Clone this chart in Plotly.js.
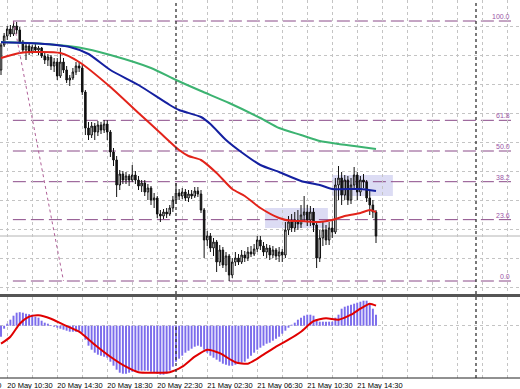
<!DOCTYPE html>
<html><head><meta charset="utf-8">
<script src="https://cdn.plot.ly/plotly-3.0.1.min.js"></script>
<style>html,body{margin:0;padding:0;background:#fff;}#chart{width:520px;height:389px;}</style>
</head><body><div id="chart"></div>
<script>
// M15 bars, bar 0 = 20 May 10:00 ... bar 120 = 21 May 16:00 (prices in points above swing low)
const bars = Array.from({length:121}, (_, k) => k);
const openP = [
 211,236,245,252,247,255,251,239,231,235,
 229,234,231,233,225,221,224,215,219,205,
 219,211,201,203,209,215,213,189,153,146,
 155,149,156,151,157,149,129,121,96,107,
 101,105,101,106,101,95,98,89,93,81,
 83,67,65,69,67,73,81,88,85,89,
 83,87,85,90,87,71,41,45,33,39,
 19,31,16,25,6,19,23,19,26,23,
 29,27,32,41,35,29,33,26,31,25,
 29,26,51,59,53,61,57,66,69,61,
 69,56,23,43,51,41,53,49,96,103,
 86,101,81,96,106,89,101,99,83,76,
 69];
const highP = [
 238,248,255,256,260,259,254,241,238,237,
 236,237,235,234,229,227,226,223,223,233,
 223,215,206,213,219,219,216,191,159,159,
 158,160,159,161,161,151,133,125,111,110,
 109,107,116,110,105,101,101,97,95,88,
 85,71,72,73,76,85,98,92,93,92,
 91,91,94,94,91,73,50,48,43,41,
 36,34,29,27,23,29,27,31,30,34,
 35,37,45,45,39,37,36,35,33,34,
 32,59,65,67,69,71,76,85,76,75,
 73,59,51,59,56,59,61,103,115,109,
 106,105,103,114,109,105,107,101,91,81,
 71];
const lowP = [
 206,234,241,244,245,247,237,228,221,226,
 227,228,226,223,217,215,211,209,201,203,
 208,198,195,201,206,209,186,146,141,143,
 141,145,147,148,141,124,115,84,91,97,
 97,95,99,97,91,89,85,81,76,73,
 63,59,62,63,65,69,77,81,82,80,
 79,82,83,84,68,23,35,29,25,9,
 15,13,9,0,3,15,16,17,19,20,
 24,25,29,31,25,23,21,23,21,19,
 19,23,46,49,49,51,53,59,55,55,
 49,13,19,35,36,36,43,47,81,76,
 81,76,77,91,81,85,93,79,66,63,
 38];
const closeP = [
 236,245,252,247,255,251,239,231,235,229,
 234,231,233,225,221,224,215,219,205,219,
 211,201,203,209,215,213,189,153,146,155,
 149,156,151,157,149,129,121,96,107,101,
 105,101,106,101,95,98,89,93,81,83,
 67,65,69,67,73,81,88,85,89,83,
 87,85,90,87,71,41,45,33,39,19,
 31,16,25,6,19,23,19,26,23,29,
 27,32,41,35,29,33,26,31,25,29,
 26,51,59,53,61,57,66,69,61,69,
 56,23,43,51,41,53,49,96,103,86,
 101,81,96,106,89,101,99,83,76,69,
 45];

// moving averages read at sample bars
const maGreenBar = [0,12,25,35,48,56,64,73,83,89,96,102,108,113,120];
const maGreenVal = [239,237.5,233.5,226,213,201,190,178,163,153,146,140,137,135,132];
const maBlueBar = [0,12,22,28,35,44,54,57,64,67,72,76,83,89,96,102,106,115,120];
const maBlueVal = [238.7,237.5,234,227,211,196,176,171,164,157,141,131,116,109,100,96,92,92,90];
const maRedBar = [0,6,10,19,25,35,44,51,57,60,64,69,74,78,83,89,93,96,102,106,110,115,118,120];
const maRedVal = [223,228,229,228,219,194,168,148,131,125,121,108,92,85,73,63,60,60,59,61,65,68,71,69];

// MACD histogram (per bar) and signal line (sample bars)
const macdHist = [
 -11,-3,2,6,10,13,13.5,13,12,11.5,
 11,9,8,5,3,2,0.5,-1,-2,-3,
 -4,-5,-6,-6,-6,-5,-7,-14,-20,-24,
 -27,-29,-30,-31,-32,-36,-40,-44,-47,-48,
 -48,-47,-46,-46,-45,-45,-45,-45,-46,-47,
 -48,-49,-49,-48,-45,-41,-36,-33,-30,-27,
 -25,-23,-21,-20,-21,-24,-27,-30,-32,-34,
 -36,-38,-39,-40,-40,-39,-38,-37,-36,-33,
 -30,-27,-24,-22,-20,-18,-17,-15,-13,-11,
 -8,-5,-2,1,3,6,8,10,11,11,
 10,6,4,4,4,4,4,8,11,17,
 19,20,21,22,23,24,25,25,22,17,
 11];
const sigBar = [0,3,6,9,12,16,20,25,30,35,40,44,49,54,58,62,66,70,75,79,83,88,92,96,100,104,108,112,115,118,120];
const sigVal = [-18,-11,2,9,10.5,7,1,-6,-19,-31,-41,-46.5,-47,-46.5,-41,-31,-24,-27.5,-36.5,-38,-31,-21,-14,-6,4.5,7.5,6,11,17,22,20];

// Fibonacci retracement
const fibHighBar = 4, fibLowBar = 20;
const fibHigh = 260, fibLow = 0;
const fibLevels = [0, 23.6, 38.2, 50, 61.8, 100];
const fibLabels = ['0.0','23.6','38.2','50.0','61.8','100.0'];
const fibEndBar = 163.2;

// rectangles [bar0, bar1, price0, price1]
const boxes = [[84.5,104.6,53,73],[105.9,125.4,85,106]];
const bidPrice = 45;
const daySepBars = [56, 152];

// time axis
const gridBars = [2,10,18,26,34,42,50,58,66,74,82,90,98,106,114,122,130,138,146,154,162];
const labelBars = [2,18,34,50,66,82,98,114];
const labelText = ['20 May 10:30','20 May 14:30','20 May 18:30','20 May 22:30','21 May 02:30','21 May 06:30','21 May 10:30','21 May 14:30'];
const cutLabelText = '20 May 06:30';

const tickText = gridBars.map(b => { const k = labelBars.indexOf(b); return k >= 0 ? labelText[k] : ''; });

const fibCol = '#8a4a88', fibTxt = '#9a55a6';
const fontFam = 'Liberation Sans, Arial, sans-serif';

const traces = [
  {type:'candlestick', x:bars, open:openP, high:highP, low:lowP, close:closeP, xaxis:'x', yaxis:'y',
   increasing:{line:{color:'#111', width:1}, fillcolor:'#ffffff'},
   decreasing:{line:{color:'#111', width:1}, fillcolor:'#111111'},
   whiskerwidth:0, hoverinfo:'skip'},
  {type:'scatter', mode:'lines', x:maGreenBar, y:maGreenVal, line:{color:'#3cb371', width:2, shape:'spline', smoothing:0.6}, hoverinfo:'skip'},
  {type:'scatter', mode:'lines', x:maBlueBar, y:maBlueVal, line:{color:'#1420a0', width:2, shape:'spline', smoothing:0.6}, hoverinfo:'skip'},
  {type:'scatter', mode:'lines', x:maRedBar, y:maRedVal, line:{color:'#e2231a', width:2, shape:'spline', smoothing:0.6}, hoverinfo:'skip'},
  {type:'bar', x:bars, y:macdHist, xaxis:'x', yaxis:'y2', width:0.62, marker:{color:'#7b6cec', line:{width:0}}, hoverinfo:'skip'},
  {type:'scatter', mode:'lines', x:sigBar, y:sigVal, xaxis:'x', yaxis:'y2', line:{color:'#e00000', width:2, shape:'spline', smoothing:0.6}, hoverinfo:'skip'}
];

const shapes = [];
boxes.forEach(b => shapes.push({type:'rect', xref:'x', yref:'y', x0:b[0], x1:b[1], y0:b[2], y1:b[3], fillcolor:'#dcdcf4', line:{width:0}, layer:'below'}));
fibLevels.forEach(l => {
  const p = fibLow + (fibHigh - fibLow) * l / 100;
  shapes.push({type:'line', xref:'x', yref:'y', x0:fibHighBar - 0.2, x1:fibEndBar, y0:p, y1:p, line:{color:fibCol, width:1, dash:'13px,5px'}, layer:'below'});
});
shapes.push({type:'line', xref:'x', yref:'y', x0:fibHighBar, y0:fibHigh, x1:fibLowBar, y1:fibLow, line:{color:'#b06098', width:1, dash:'dot'}});
shapes.push({type:'line', xref:'paper', yref:'y', x0:0, x1:1, y0:bidPrice, y1:bidPrice, line:{color:'#b4b4b4', width:1}, layer:'below'});
daySepBars.forEach(b => shapes.push({type:'line', xref:'x', yref:'paper', x0:b, x1:b, y0:0, y1:1, line:{color:'#333', width:1.3, dash:'dot'}}));
shapes.push({type:'rect', xref:'paper', yref:'paper', x0:0, x1:1, y0:0.2143, y1:0.2222, fillcolor:'#555', line:{width:0}});
shapes.push({type:'line', xref:'paper', yref:'paper', x0:0, x1:1, y0:0, y1:0, line:{color:'#222', width:1}});

const annotations = fibLevels.map((l, k) => ({
  xref:'x', yref:'y', x:fibEndBar, y:fibLow + (fibHigh - fibLow) * l / 100,
  xanchor:'right', yanchor:'bottom', text:fibLabels[k], showarrow:false,
  font:{family:fontFam, size:7, color:fibTxt}, borderpad:0
}));
annotations.push({xref:'paper', yref:'paper', x:0.0067, y:0, xanchor:'right', yanchor:'top', yshift:-1,
  text:cutLabelText, showarrow:false, font:{family:fontFam, size:7.5, color:'#000'}});

const layout = {
  width:520, height:389, margin:{l:0, r:0, t:0, b:11, pad:0},
  paper_bgcolor:'#ffffff', plot_bgcolor:'#ffffff', showlegend:false,
  font:{family:fontFam, size:7.5, color:'#000'},
  xaxis:{range:[-0.32,166.08], anchor:'y2', rangeslider:{visible:false}, tickmode:'array', tickvals:gridBars, ticktext:tickText,
         tickangle:0, showgrid:true, gridcolor:'#c4c4c4', griddash:'dot', gridwidth:1, zeroline:false, showline:false, ticks:'',
         ticklabelposition:'outside right', ticklabelstandoff:1, fixedrange:true, tickfont:{size:7.5, color:'#000'}},
  yaxis:{domain:[0.2222,1], range:[-13,281], tickmode:'linear', tick0:23, dtick:29, showticklabels:false,
         showgrid:true, gridcolor:'#c4c4c4', griddash:'dot', zeroline:false, ticks:'', fixedrange:true},
  yaxis2:{domain:[0,0.2143], range:[-52.3,28.7], tickmode:'array', tickvals:[0], showticklabels:false,
          showgrid:true, gridcolor:'#c4c4c4', griddash:'dot', zeroline:false, ticks:'', fixedrange:true},
  bargap:0.3, shapes:shapes, annotations:annotations
};

Plotly.newPlot('chart', traces, layout, {staticPlot:true, displayModeBar:false});
</script></body></html>
